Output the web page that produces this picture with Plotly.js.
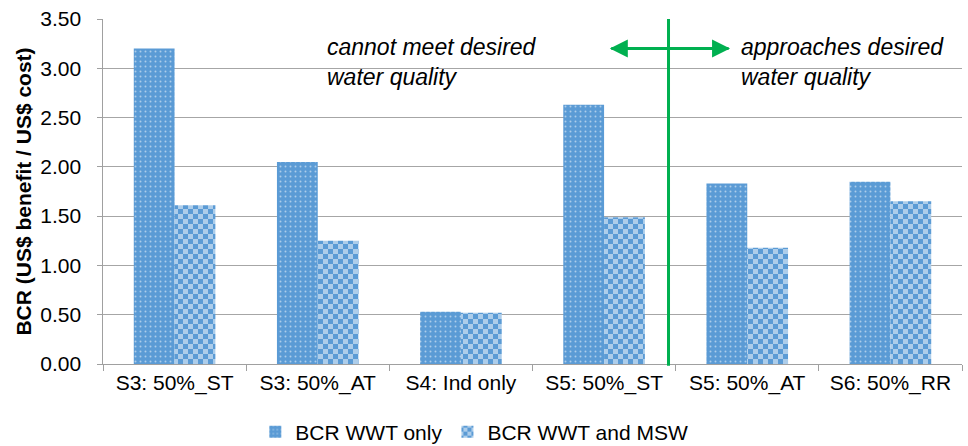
<!DOCTYPE html>
<html><head><meta charset="utf-8">
<script src="https://cdn.plot.ly/plotly-3.0.1.min.js"></script>
<style>body{margin:0;background:#fff}#chart{width:968px;height:446px}</style>
</head><body><div id="chart"></div>
<script>
const categories = ["S3: 50%_ST","S3: 50%_AT","S4: Ind only","S5: 50%_ST","S5: 50%_AT","S6: 50%_RR"];
const wwtOnly = [3.20, 2.05, 0.53, 2.63, 1.83, 1.85];
const wwtMsw = [1.61, 1.25, 0.52, 1.49, 1.18, 1.65];
const yTicks = [0,0.5,1,1.5,2,2.5,3,3.5];
const yTickLabels = ["0.00","0.50","1.00","1.50","2.00","2.50","3.00","3.50"];
const blue = "#5B9BD5";
const font = "Liberation Sans, Arial, sans-serif";
const traces = [
  {type:"bar", name:"BCR WWT only", x:categories, y:wwtOnly,
   marker:{color:blue, line:{width:0}, pattern:{shape:".", bgcolor:blue, fgcolor:"#ffffff", size:5, solidity:0.12, fillmode:"overlay"}}},
  {type:"bar", name:"BCR WWT and MSW", x:categories, y:wwtMsw,
   marker:{color:blue, line:{width:0}, pattern:{path:"M0,0H5V5H0Z M5,5H10V10H5Z", bgcolor:blue, fgcolor:"#ffffff", size:10, solidity:0.5, fillmode:"overlay"}}}
];
const layout = {
  width:968, height:446,
  margin:{l:103, r:6, t:19, b:82, autoexpand:false},
  paper_bgcolor:"#fff", plot_bgcolor:"#fff",
  barmode:"group", bargap:0.43, bargroupgap:0,
  font:{family:font, size:21, color:"#000"},
  showlegend:true,
  legend:{orientation:"h", xref:"container", x:0.49, xanchor:"center", yref:"container", y:(446-432)/446, yanchor:"middle", font:{size:21}, itemwidth:30, tracegroupgap:0},
  xaxis:{type:"category", showgrid:false, showline:true, linecolor:"#a0a0a0", linewidth:1, ticks:"outside", tickson:"boundaries", ticklen:6, tickcolor:"#a0a0a0", tickfont:{size:21}, tickangle:0},
  yaxis:{range:[0,3.5], tickvals:yTicks, ticktext:yTickLabels.map(s => s + "\u00a0\u00a0"), showgrid:true, gridcolor:"#a6a6a6", gridwidth:1, showline:true, linecolor:"#a0a0a0", ticks:"outside", ticklen:5, tickcolor:"#a0a0a0", tickfont:{size:21}, zeroline:false,
    title:{text:"<b>BCR (US$ benefit / US$ cost)</b>", font:{size:21}, standoff:2}},
  shapes:[
    {type:"line", xref:"x", yref:"paper", x0:3.45, x1:3.45, y0:-0.005, y1:1.0, line:{color:"#00B050", width:3}}
  ],
  annotations:[
    {xref:"x", yref:"y", x:3.04, y:3.2, ax:3.88, ay:3.2, axref:"x", ayref:"y", showarrow:true, arrowhead:2, arrowsize:1.2, arrowwidth:3, arrowcolor:"#00B050", text:""},
    {xref:"x", yref:"y", x:3.88, y:3.2, ax:3.04, ay:3.2, axref:"x", ayref:"y", showarrow:true, arrowhead:2, arrowsize:1.2, arrowwidth:3, arrowcolor:"#00B050", text:""},
    {xref:"paper", yref:"paper", x:(325-103)/859, y:(364-32)/345, xanchor:"left", yanchor:"top", align:"left", showarrow:false, text:"<i>cannot meet desired<br>water quality</i>", font:{size:23}},
    {xref:"paper", yref:"paper", x:(739-103)/859, y:(364-32)/345, xanchor:"left", yanchor:"top", align:"left", showarrow:false, text:"<i>approaches desired<br>water quality</i>", font:{size:23}}
  ]
};
Plotly.newPlot("chart", traces, layout, {displayModeBar:false, staticPlot:true});
</script></body></html>
